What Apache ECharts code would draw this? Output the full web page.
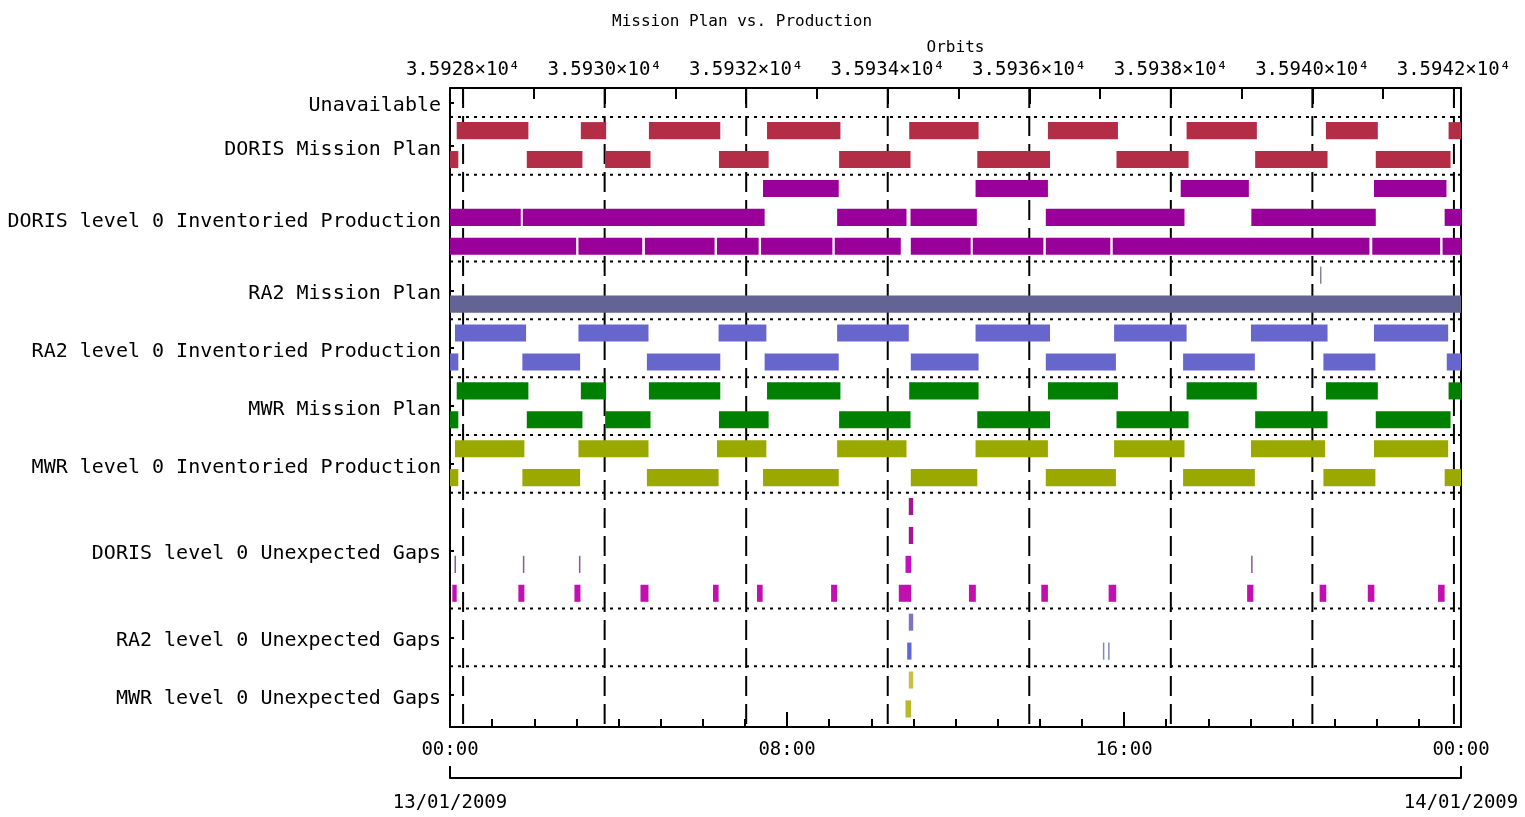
<!DOCTYPE html>
<html><head><meta charset="utf-8">
<script src="https://cdn.jsdelivr.net/npm/echarts@6/dist/echarts.min.js"></script>
<style>html,body{margin:0;padding:0;background:#fff}#c{width:1525px;height:817px}</style>
</head><body><div id="c"></div><script>
const FONT = "'DejaVu Sans Mono', monospace";

// ---- labels / ticks ----
const rowLabels = ['Unavailable','DORIS Mission Plan','DORIS level 0 Inventoried Production','RA2 Mission Plan','RA2 level 0 Inventoried Production','MWR Mission Plan','MWR level 0 Inventoried Production','DORIS level 0 Unexpected Gaps','RA2 level 0 Unexpected Gaps','MWR level 0 Unexpected Gaps'];
const rowLabelPos = [21.5, 20, 17.5, 15, 13, 11, 9, 6, 3, 1];
const rowBoundaries = [21, 19, 16, 14, 12, 10, 8, 4, 2];
const timeTickLabels = ['00:00','08:00','16:00','00:00'];
const dateTickValues = [0, 24];
const dateTickLabels = ['13/01/2009','14/01/2009'];
const orbitMajorTicks = [35928,35930,35932,35934,35936,35938,35940,35942];
const orbitMajorLabels = ['3.5928×10⁴','3.5930×10⁴','3.5932×10⁴','3.5934×10⁴','3.5936×10⁴','3.5938×10⁴','3.5940×10⁴','3.5942×10⁴'];
const orbitMinorTicks = [35929,35931,35933,35935,35937,35939,35941];
const ORBIT_MIN = 35927.815, ORBIT_MAX = 35942.10;

// ---- intervals, hours of 13/01/2009 [start, end] ----
const missionPlanUpper = [[0.159,1.861],[3.106,3.707],[4.722,6.416],[7.526,9.268],[10.901,12.548],[14.194,15.856],[17.486,19.154],[20.794,22.025],[23.705,24]];
const missionPlanLower = [[0,0.197],[1.823,3.144],[3.683,4.760],[6.385,7.564],[9.237,10.932],[12.517,14.244],[15.822,17.533],[19.114,20.832],[21.977,23.752]];
const dorisInv1 = [[7.431,9.228],[12.476,14.194],[17.346,18.964],[21.934,23.655]];
const dorisInv2 = [[0,1.680],[1.728,7.469],[9.190,10.837],[10.932,12.507],[14.144,17.436],[19.023,21.977],[23.612,24]];
const dorisInv3 = [[0,2.994],[3.049,4.563],[4.627,6.281],[6.338,7.327],[7.384,9.078],[9.133,10.701],[10.939,12.360],[12.410,14.087],[14.144,15.675],[15.732,21.827],[21.894,23.505],[23.562,24]];
const ra2PlanTick = [[20.66,20.68]];
const ra2Plan = [[0,24]];
const ra2Inv1 = [[0.119,1.806],[3.049,4.712],[6.376,7.510],[9.190,10.891],[12.476,14.244],[15.765,17.486],[19.014,20.832],[21.934,23.695]];
const ra2Inv2 = [[0,0.197],[1.718,3.089],[4.674,6.416],[7.469,9.228],[10.939,12.548],[14.144,15.808],[17.403,19.106],[20.734,21.968],[23.662,24]];
const mwrInv1 = [[0.119,1.766],[3.049,4.712],[6.338,7.510],[9.190,10.837],[12.476,14.194],[15.765,17.436],[19.014,20.775],[21.934,23.695]];
const mwrInv2 = [[0,0.197],[1.718,3.089],[4.674,6.376],[7.431,9.228],[10.939,12.517],[14.144,15.808],[17.403,19.106],[20.734,21.968],[23.612,24]];
const dorisGap1 = [[10.891,10.996]];
const dorisGap2 = [[10.891,10.996]];
const dorisGap3Thin = [[0.119,0.13],[1.742,1.753],[3.073,3.084],[19.030,19.041]];
const dorisGap3 = [[10.813,10.948]];
const dorisGap4 = [[0.055,0.159],[1.623,1.766],[2.954,3.097],[4.522,4.712],[6.243,6.376],[7.288,7.422],[9.047,9.190],[10.654,10.948],[12.319,12.483],[14.037,14.194],[15.635,15.815],[18.923,19.073],[20.644,20.801],[21.787,21.944],[23.455,23.612]];
const ra2Gap1 = [[10.891,10.996]];
const ra2Gap2 = [[10.853,10.955]];
const ra2Gap2Thin = [[15.511,15.522],[15.635,15.646]];
const mwrGap1 = [[10.891,10.996]];
const mwrGap2 = [[10.813,10.948]];

// lane index (from bottom), data, colour
const lanes = [
  [20, missionPlanUpper, '#b22d45'],
  [19, missionPlanLower, '#b22d45'],
  [18, dorisInv1, '#990099'],
  [17, dorisInv2, '#990099'],
  [16, dorisInv3, '#990099'],
  [15, ra2PlanTick, '#8080a8'],
  [14, ra2Plan, '#636394'],
  [13, ra2Inv1, '#6666cc'],
  [12, ra2Inv2, '#6666cc'],
  [11, missionPlanUpper, '#008000'],
  [10, missionPlanLower, '#008000'],
  [9, mwrInv1, '#9aa800'],
  [8, mwrInv2, '#9aa800'],
  [7, dorisGap1, '#a0188c'],
  [6, dorisGap2, '#a0188c'],
  [5, dorisGap3Thin, '#9050a8'],
  [5, dorisGap3, '#c010c0'],
  [4, dorisGap4, '#c010b0'],
  [3, ra2Gap1, '#7878c0'],
  [2, ra2Gap2, '#5a6ad2'],
  [2, ra2Gap2Thin, '#8088b8'],
  [1, mwrGap1, '#c8c040'],
  [0, mwrGap2, '#b8b828']
];

// label baseline sits slightly below the row tick (style offset, lane units)
const LABEL_DROP = 0.12;
const rowLabelDrawPos = rowLabelPos.map(v => v - LABEL_DROP);

function barRender(params, api) {
  const s = api.value(0), e = api.value(1), lane = api.value(2);
  const p0 = api.coord([s, lane + 0.82]);
  const p1 = api.coord([e, lane + 0.23]);
  let x = p0[0], w = p1[0] - p0[0];
  if (w < 1.5) { x -= (1.5 - w) / 2; w = 1.5; }
  return { type: 'rect', shape: { x: x, y: p0[1], width: w, height: p1[1] - p0[1] }, style: { fill: api.visual('color') } };
}

const series = lanes.map(([lane, arr, color]) => ({
  type: 'custom', renderItem: barRender, xAxisIndex: 0, yAxisIndex: 0,
  encode: { x: [0, 1], y: 2 }, clip: true, silent: true, z: 3,
  itemStyle: { color: color },
  data: arr.map(d => [d[0], d[1], lane])
}));

// vertical long-dashed lines at even orbits
series.push({
  type: 'custom', xAxisIndex: 1, yAxisIndex: 0, silent: true, z: 2,
  encode: { x: 0, y: 1 },
  data: orbitMajorTicks.map(v => [v, 0]),
  renderItem: function (params, api) {
    const cs = params.coordSys;
    const x = api.coord([api.value(0), 0])[0];
    return { type: 'line', shape: { x1: x, y1: cs.y, x2: x, y2: cs.y + cs.height },
      style: { stroke: '#000', lineWidth: 2, lineDash: [20, 8] } };
  }
});
// horizontal dotted separators
series.push({
  type: 'custom', xAxisIndex: 0, yAxisIndex: 0, silent: true, z: 2,
  encode: { x: 0, y: 1 },
  data: rowBoundaries.map(v => [0, v]),
  renderItem: function (params, api) {
    const cs = params.coordSys;
    const y = api.coord([0, api.value(1)])[1];
    return { type: 'line', shape: { x1: cs.x, y1: y, x2: cs.x + cs.width, y2: y },
      style: { stroke: '#000', lineWidth: 2, lineDash: [3, 5] } };
  }
});

const lbl = { color: '#000', fontFamily: FONT, fontSize: 19 };
const blk = { color: '#000', width: 2 };

const option = {
  animation: false,
  backgroundColor: '#fff',
  title: { text: 'Mission Plan vs. Production', left: 607, top: 9,
    textStyle: { color: '#000', fontFamily: FONT, fontSize: 16, fontWeight: 'normal' } },
  grid: { left: 450, top: 88, width: 1011, height: 639, show: false, outerBoundsMode: 'none', containLabel: false },
  xAxis: [
    { type: 'value', position: 'bottom', min: 0, max: 24, interval: 8,
      axisLine: { show: true, onZero: false, lineStyle: blk },
      axisTick: { inside: true, length: 15, lineStyle: blk },
      minorTick: { show: true, splitNumber: 8, length: 8, lineStyle: blk },
      splitLine: { show: false }, minorSplitLine: { show: false },
      axisLabel: Object.assign({ margin: 14, formatter: v => timeTickLabels[Math.round(v / 8)] }, lbl) },
    { type: 'value', position: 'top', min: ORBIT_MIN, max: ORBIT_MAX,
      name: 'Orbits', nameLocation: 'middle', nameGap: 25,
      nameTextStyle: { color: '#000', fontFamily: FONT, fontSize: 16 },
      axisLine: { show: true, onZero: false, lineStyle: blk },
      axisTick: { inside: true, length: 16, lineStyle: blk, customValues: orbitMajorTicks },
      splitLine: { show: false },
      axisLabel: Object.assign({ margin: 8, customValues: orbitMajorTicks,
        formatter: v => orbitMajorLabels[orbitMajorTicks.indexOf(Math.round(v))] }, lbl) },
    { type: 'value', position: 'top', min: ORBIT_MIN, max: ORBIT_MAX,
      axisLine: { show: false, onZero: false },
      axisTick: { inside: true, length: 11, lineStyle: blk, customValues: orbitMinorTicks },
      splitLine: { show: false }, axisLabel: { show: false } },
    { type: 'value', position: 'bottom', offset: 51, min: 0, max: 24,
      axisLine: { show: true, onZero: false, lineStyle: blk },
      axisTick: { inside: true, length: 12, lineStyle: blk, customValues: dateTickValues },
      splitLine: { show: false },
      axisLabel: Object.assign({ margin: 16, customValues: dateTickValues,
        formatter: v => dateTickLabels[dateTickValues.indexOf(Math.round(v))] }, lbl) }
  ],
  yAxis: [
    { type: 'value', position: 'left', min: -0.1, max: 22,
      axisLine: { show: true, onZero: false, lineStyle: blk }, splitLine: { show: false },
      axisTick: { inside: true, length: 4, lineStyle: blk, customValues: rowLabelPos },
      axisLabel: { customValues: rowLabelDrawPos, margin: 9, color: '#000', fontFamily: FONT, fontSize: 20,
        formatter: v => {
          let bi = 0, bd = 1e9;
          rowLabelDrawPos.forEach((p, i) => { const d = Math.abs(p - v); if (d < bd) { bd = d; bi = i; } });
          return rowLabels[bi];
        } } },
    { type: 'value', position: 'right', min: -0.1, max: 22,
      axisLine: { show: true, onZero: false, lineStyle: blk }, splitLine: { show: false },
      axisTick: { show: false }, axisLabel: { show: false } }
  ],
  series: series
};

const chart = echarts.init(document.getElementById('c'), null, { renderer: 'canvas' });
chart.setOption(option);
</script></body></html>
